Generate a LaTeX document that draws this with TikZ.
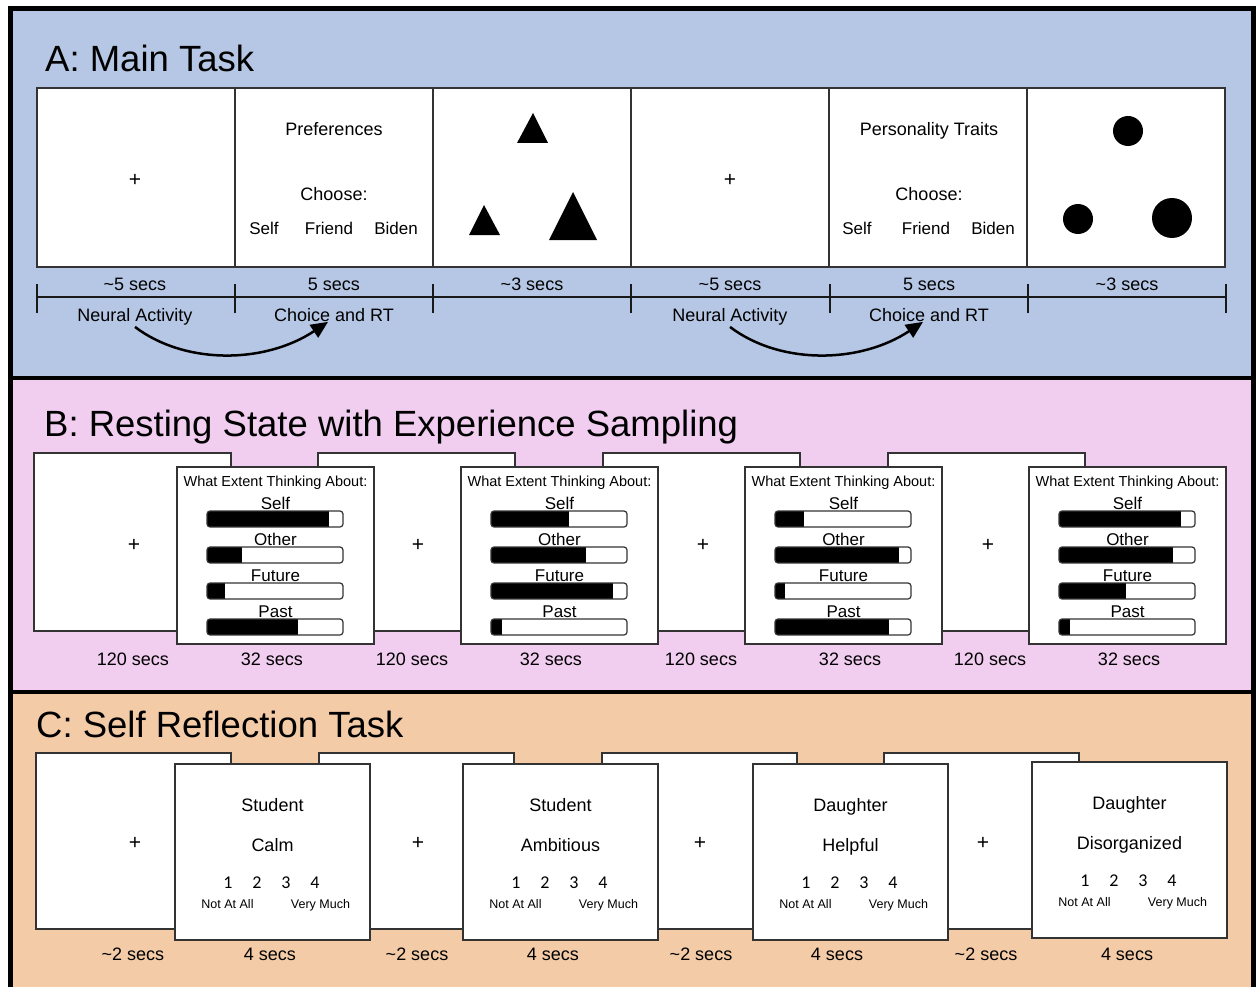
\documentclass[tikz,border=0pt]{standalone}
\usepackage{fontspec}
\setmainfont{Liberation Sans}
\newfontfamily\numfont{Carlito}
\usetikzlibrary{arrows.meta}
\definecolor{panelA}{HTML}{B5C7E4}
\definecolor{panelB}{HTML}{F1CDF0}
\definecolor{panelC}{HTML}{F3CBA7}

% question card of panel B: x, name, four fill fractions
\newcommand\mkqbar[5]{%
  \begin{scope}
    \clip[rounded corners=3pt] (#1+30,#2) rectangle ++(136,16);
    \fill[white] (#1+30,#2) rectangle ++(136,16);
    \fill[black] (#1+30,#2) rectangle ++({136*#3},16);
  \end{scope}
  \draw[rounded corners=3pt, line width=1.2pt, draw=black!80] (#1+30,#2) rectangle ++(136,16);
  \node[t17, anchor=base] (#5) at (#1+98.5,#2-1.5) {#4};
}
\newcommand\mkqcard[6]{%
  \draw[frame, fill=white] (#1,467) rectangle ++(197,177);
  \node[qt, anchor=base] (#2t) at (#1+98.5,486.5) {What Extent Thinking About:};
  \mkqbar{#1}{511}{#3}{Self}{#2s}
  \mkqbar{#1}{547}{#4}{Other}{#2o}
  \mkqbar{#1}{583}{#5}{Future}{#2f}
  \mkqbar{#1}{619}{#6}{Past}{#2p}
}
% rating card of panel C: x, y, name, role, trait
\newcommand\mkrcard[5]{%
  \draw[frame, fill=white] (#1,#2) rectangle ++(195,176);
  \node[t18, anchor=base] (#3r) at (#1+97.5,#2+47.5) {#4};
  \node[t18, anchor=base] (#3t) at (#1+97.5,#2+87.5) {#5};
  \node[num, anchor=base] (#3na) at (#1+53,#2+124) {1};
  \node[num, anchor=base] (#3nb) at (#1+82,#2+124) {2};
  \node[num, anchor=base] (#3nc) at (#1+111,#2+124) {3};
  \node[num, anchor=base] (#3nd) at (#1+140,#2+124) {4};
  \node[sm, anchor=base] (#3lo) at (#1+52.5,#2+144.5) {Not At All};
  \node[sm, anchor=base] (#3hi) at (#1+145.5,#2+144.5) {Very Much};
}

\begin{document}
\begin{tikzpicture}[x=1pt, y=-1pt,
  frame/.style={draw=black!80, line width=1.5pt},
  t18/.style={font=\fontsize{18}{21}\selectfont, inner sep=0pt},
  t17/.style={font=\fontsize{17}{20}\selectfont, inner sep=0pt},
  plus/.style={font=\fontsize{21}{24}\selectfont, inner sep=0pt},
  ttl/.style={font=\fontsize{36.5}{42}\selectfont, inner sep=0pt},
  qt/.style={font=\fontsize{14.5}{17}\selectfont, inner sep=0pt},
  sm/.style={font=\fontsize{12.5}{15}\selectfont, inner sep=0pt},
  num/.style={font=\numfont\fontsize{18}{21}\selectfont, inner sep=0pt},
  tl/.style={line width=1.5pt, draw=black!90},
  arr/.style={line width=2.5pt, -{Triangle[length=17pt,width=15pt]}}]
\useasboundingbox (0,0) rectangle (1258,987);
\fill[white] (0,0) rectangle (1258,987);
\fill[panelA] (10,9) rectangle (1253,378);
\fill[panelB] (10,378) rectangle (1253,692);
\fill[panelC] (10,692) rectangle (1253,987);
\draw[line width=4pt] (10,378) -- (1253,378);
\draw[line width=4pt] (10,692) -- (1253,692);
\draw[line width=5pt] (10.5,990) -- (10.5,8.5) -- (1253,8.5) -- (1253,990);

% ---------------- Panel A ----------------
\node[ttl, anchor=base west] (tA) at (45,72) {A: Main Task};
\foreach \i in {0,...,5} \draw[frame, fill=white] (37+198*\i,88) rectangle ++(198,179);
\node[plus] (ap1) at (135,180) {+};
\node[t18, anchor=base] (pref) at (334,135.5) {Preferences};
\node[t18, anchor=base] (ch1) at (334,200.5) {Choose:};
\node[t17, anchor=base] (s1) at (264,234) {Self};
\node[t17, anchor=base] (f1) at (329,234) {Friend};
\node[t17, anchor=base] (b1) at (396,234) {Biden};
\fill (533,113) -- (548,143) -- (517,143) -- cycle;
\fill (484,205) -- (500,235) -- (469,235) -- cycle;
\fill (573,192) -- (597,240) -- (549,240) -- cycle;
\node[plus] (ap2) at (730,180) {+};
\node[t18, anchor=base] (pers) at (929,135.5) {Personality Traits};
\node[t18, anchor=base] (ch2) at (929,200.5) {Choose:};
\node[t17, anchor=base] (s2) at (857,234) {Self};
\node[t17, anchor=base] (f2) at (926,234) {Friend};
\node[t17, anchor=base] (b2) at (993,234) {Biden};
\fill (1128,131) circle[radius=15pt];
\fill (1078,219) circle[radius=15pt];
\fill (1172,218) circle[radius=20pt];

% timeline
\draw[tl] (37,297) -- (1226,297);
\foreach \x in {37,235,433,631,830,1028,1226} \draw[tl] (\x,284) -- (\x,313);
\node[t18, anchor=base] (d1) at (135,290) {\textasciitilde5 secs};
\node[t18, anchor=base] (d2) at (334,290) {5 secs};
\node[t18, anchor=base] (d3) at (532,290) {\textasciitilde3 secs};
\node[t18, anchor=base] (d4) at (730,290) {\textasciitilde5 secs};
\node[t18, anchor=base] (d5) at (929,290) {5 secs};
\node[t18, anchor=base] (d6) at (1127,290) {\textasciitilde3 secs};
\node[t18, anchor=base] (na1) at (135,321.5) {Neural Activity};
\node[t18, anchor=base] (cr1) at (334,321.5) {Choice and RT};
\node[t18, anchor=base] (na2) at (730,321.5) {Neural Activity};
\node[t18, anchor=base] (cr2) at (929,321.5) {Choice and RT};
\draw[arr] ([yshift=-1.5pt]na1.south) .. controls +(50,38) and +(-63,42) .. ([xshift=-6pt]cr1.south);
\draw[arr] ([yshift=-1.5pt]na2.south) .. controls +(50,38) and +(-63,42) .. ([xshift=-6pt]cr2.south);

% ---------------- Panel B ----------------
\node[ttl, anchor=base west] (tB) at (44,436) {B: Resting State with Experience Sampling};
\foreach \x [count=\k] in {34,318,603,888}{
  \draw[frame, fill=white] (\x,453) rectangle ++(197,178);
  \node[plus] (bp\k) at (\x+100,545) {+};
}
\mkqcard{177}{qa}{0.90}{0.26}{0.13}{0.67}
\mkqcard{461}{qb}{0.57}{0.70}{0.90}{0.08}
\mkqcard{745}{qc}{0.21}{0.91}{0.07}{0.84}
\mkqcard{1029}{qd}{0.90}{0.84}{0.49}{0.08}
\node[t18, anchor=base] (bl1) at (133,665.5) {120 secs};
\node[t18, anchor=base] (bl2) at (272,665.5) {32 secs};
\node[t18, anchor=base] (bl3) at (412,665.5) {120 secs};
\node[t18, anchor=base] (bl4) at (551,665.5) {32 secs};
\node[t18, anchor=base] (bl5) at (701,665.5) {120 secs};
\node[t18, anchor=base] (bl6) at (850,665.5) {32 secs};
\node[t18, anchor=base] (bl7) at (990,665.5) {120 secs};
\node[t18, anchor=base] (bl8) at (1129,665.5) {32 secs};

% ---------------- Panel C ----------------
\node[ttl, anchor=base west] (tC) at (36,737) {C: Self Reflection Task};
\foreach \x/\p [count=\k] in {36/135,319/418,602/700,884/983}{
  \draw[frame, fill=white] (\x,753) rectangle ++(195,176);
  \node[plus] (cp\k) at (\p,843) {+};
}
\mkrcard{175}{764}{ra}{Student}{Calm}
\mkrcard{463}{764}{rb}{Student}{Ambitious}
\mkrcard{753}{764}{rc}{Daughter}{Helpful}
\mkrcard{1032}{762}{rd}{Daughter}{Disorganized}
\node[t18, anchor=base] (cl1) at (133,960.5) {\textasciitilde2 secs};
\node[t18, anchor=base] (cl2) at (270,960.5) {4 secs};
\node[t18, anchor=base] (cl3) at (417,960.5) {\textasciitilde2 secs};
\node[t18, anchor=base] (cl4) at (553,960.5) {4 secs};
\node[t18, anchor=base] (cl5) at (701,960.5) {\textasciitilde2 secs};
\node[t18, anchor=base] (cl6) at (837,960.5) {4 secs};
\node[t18, anchor=base] (cl7) at (986,960.5) {\textasciitilde2 secs};
\node[t18, anchor=base] (cl8) at (1127,960.5) {4 secs};
\end{tikzpicture}
\end{document}
